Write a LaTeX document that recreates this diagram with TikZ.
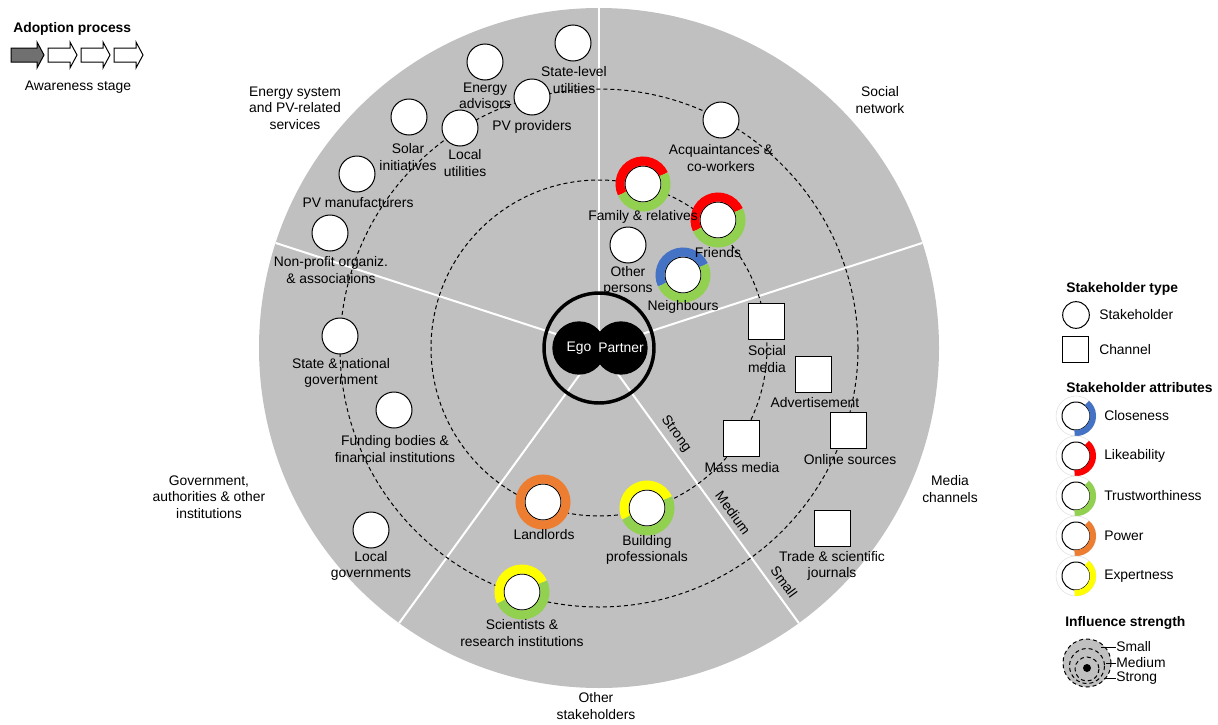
\documentclass[tikz,border=0pt]{standalone}
\usepackage{fontspec}
\setmainfont{Liberation Sans}
\usepackage{xcolor}
\definecolor{disc}{HTML}{C0C0C0}
\definecolor{arrowgray}{HTML}{707070}
\definecolor{cclose}{HTML}{4472C4}
\definecolor{clike}{HTML}{FF0000}
\definecolor{ctrust}{HTML}{92D050}
\definecolor{cpower}{HTML}{ED7D31}
\definecolor{cexpert}{HTML}{FFFF00}

\tikzset{
  stake/.style={circle, draw, fill=white, line width=0.75pt, minimum size=27pt, inner sep=0pt},
  chan/.style={rectangle, draw, fill=white, line width=0.75pt, minimum size=27pt, inner sep=0pt},
  blob/.style={circle, fill=black, text=white, minimum size=40pt, inner sep=0pt},
  lbl/.style={align=center, inner sep=0pt},
  sector/.style={align=center, inner sep=0pt},
  ring/.style={line width=6.75pt},
  sring/.style={line width=4.5pt},
  dashring/.style={dash pattern=on 3pt off 2.25pt, line width=0.75pt},
}

\begin{document}
\begin{tikzpicture}[x=0.75pt,y=-0.75pt,font=\fontsize{10.4}{12.4}\selectfont]
        \useasboundingbox (0,0) rectangle (1218,725);

        % wheel
        \fill[disc] (599,348) circle[radius=340];
        \foreach \a in {-90,-18,54,126,-162}
          \draw[white,line width=1.5pt] (599,348) -- ++(\a:340);
        \draw[dashring] (599,348) circle[radius=168];
        \draw[dashring] (599,348) circle[radius=259];
        \draw[line width=2.6pt] (599,348) circle[radius=55];
        \node(ego)[blob] at (579,348) {Ego};
        \node(partner)[blob] at (621,348) {Partner};

        \node(strong)[lbl,rotate=-54] at (676,434) {Strong};
        \node(medium)[lbl,rotate=-54] at (733,513) {Medium};
        \node(small)[lbl,rotate=-54] at (784,582) {Small};

        \node(energy)[sector] at (295,108) {Energy system\\and PV-related\\services};
        \node(social)[sector] at (880,100) {Social\\network};
        \node(media)[sector] at (950,489) {Media\\channels};
        \node(gov)[sector] at (209,497) {Government,\\authorities \& other\\institutions};
        \node(other)[sector] at (596,706) {Other\\stakeholders};

        % stakeholders
        \node(stu)[stake] at (573,43) {};
        \node(ena)[stake] at (485,62) {};
        \node(pvp)[stake] at (532,97) {};
        \node(sol)[stake] at (409,117) {};
        \node(lut)[stake] at (460,128) {};
        \node(pvm)[stake] at (357,174) {};
        \node(npo)[stake] at (330,233) {};
        \node(sng)[stake] at (340,336) {};
        \node(fin)[stake] at (394,410) {};
        \node(lgv)[stake] at (371,530) {};
        \node(sci)[stake] at (522,592) {};
        \node(lld)[stake] at (543,502) {};
        \node(bld)[stake] at (647,508) {};
        \node(fam)[stake] at (643,184) {};
        \node(fri)[stake] at (718,220) {};
        \node(oth)[stake] at (628,245) {};
        \node(nei)[stake] at (683,275) {};
        \node(acq)[stake] at (721,120) {};

        % channels
        \node(smd)[chan] at (766,321) {};
        \node(adv)[chan] at (813,374) {};
        \node(msm)[chan] at (741,438) {};
        \node(onl)[chan] at (848,430) {};
        \node(trj)[chan] at (832,528) {};

        % attributes
        \draw[ring,clike] (fam) ++(-25:23) arc[start angle=-25,end angle=-205,radius=23];
        \draw[ring,ctrust] (fam) ++(-205:23) arc[start angle=-205,end angle=-385,radius=23];
        \draw[ring,clike] (fri) ++(-25:23) arc[start angle=-25,end angle=-205,radius=23];
        \draw[ring,ctrust] (fri) ++(-205:23) arc[start angle=-205,end angle=-385,radius=23];
        \draw[ring,cclose] (nei) ++(-25:23) arc[start angle=-25,end angle=-205,radius=23];
        \draw[ring,ctrust] (nei) ++(-205:23) arc[start angle=-205,end angle=-385,radius=23];
        \draw[ring,cexpert] (bld) ++(-25:23) arc[start angle=-25,end angle=-205,radius=23];
        \draw[ring,ctrust] (bld) ++(-205:23) arc[start angle=-205,end angle=-385,radius=23];
        \draw[ring,cexpert] (sci) ++(-25:23) arc[start angle=-25,end angle=-205,radius=23];
        \draw[ring,ctrust] (sci) ++(-205:23) arc[start angle=-205,end angle=-385,radius=23];
        \draw[ring,cpower] (lld) circle[radius=23];

        \node(stutxt)[lbl] at (574,80) {State-level\\utilities};
        \node(enatxt)[lbl] at (485,96) {Energy\\advisors};
        \node(pvptxt)[lbl] at (532,127) {PV providers};
        \node(soltxt)[lbl] at (408,157) {Solar\\initiatives};
        \node(luttxt)[lbl] at (465,163) {Local\\utilities};
        \node(pvmtxt)[lbl] at (358,203) {PV manufacturers};
        \node(npotxt)[lbl] at (331,270) {Non-profit organiz.\\\& associations};
        \node(sngtxt)[lbl] at (341,373) {State \& national\\government};
        \node(fintxt)[lbl] at (395,449) {Funding bodies \&\\financial institutions};
        \node(lgvtxt)[lbl] at (371,566) {Local\\governments};
        \node(scitxt)[lbl] at (522,633) {Scientists \&\\research institutions};
        \node(lldtxt)[lbl] at (544,535) {Landlords};
        \node(bldtxt)[lbl] at (647,550) {Building\\professionals};
        \node(famtxt)[lbl] at (643,217) {Family \& relatives};
        \node(fritxt)[lbl] at (718,253) {Friends};
        \node(othtxt)[lbl] at (628,281) {Other\\persons};
        \node(neitxt)[lbl] at (683,307) {Neighbours};
        \node(acqtxt)[lbl] at (721,158) {Acquaintances \&\\co-workers};
        \node(smdtxt)[lbl] at (767,359) {Social\\media};
        \node(advtxt)[lbl] at (815,403) {Advertisement};
        \node(msmtxt)[lbl] at (742,468) {Mass media};
        \node(onltxt)[lbl] at (850,460) {Online sources};
        \node(trjtxt)[lbl] at (832,566) {Trade \& scientific\\journals};

        % adoption process
        \node(adopt)[lbl,anchor=west] at (13,29) {\textbf{Adoption process}};
        \draw[fill=arrowgray,line width=0.75pt] (11,48) -- ++(26,0) -- ++(0,-6) -- ++(7,13) -- ++(-7,13) -- ++(0,-6) -- ++(-26,0) -- cycle;
        \foreach \x in {48,81,114}
          \draw[fill=white,line width=0.75pt] (\x,48) -- ++(22,0) -- ++(0,-6) -- ++(7,13) -- ++(-7,13) -- ++(0,-6) -- ++(-22,0) -- cycle;
        \node(aware)[lbl] at (78,87) {Awareness stage};

        % legend
        \node(typ)[lbl,anchor=west] at (1066,289) {\textbf{Stakeholder type}};
        \node(lstake)[stake,minimum size=20pt] at (1076,315) {};
        \node(lstaketxt)[lbl,anchor=west] at (1099,315) {Stakeholder};
        \node(lchan)[chan,minimum size=19.5pt] at (1075,349) {};
        \node(lchantxt)[lbl,anchor=west] at (1099,350) {Channel};

        \node(attr)[lbl,anchor=west] at (1066,388) {\textbf{Stakeholder attributes}};
        \foreach \y/\c/\t in {416/cclose/Closeness,456/clike/Likeability,496/ctrust/Trustworthiness,536/cpower/Power,576/cexpert/Expertness}{
          \draw[gray!25,line width=0.4pt] (1076,\y) circle[radius=20];
          \node(att\y)[stake,minimum size=21pt] at (1076,\y) {};
          \draw[sring,\c] (att\y) ++(-50:17) arc[start angle=-50,end angle=95,radius=17];
          \node(atttxt\y)[lbl,anchor=west] at (1104,\y) {\t};
        }

        \node(infl)[lbl,anchor=west] at (1065,623) {\textbf{Influence strength}};
        \fill[disc] (1087,663) circle[radius=24];
        \draw[dashring] (1087,663) circle[radius=24];
        \draw[dashring] (1087,666) circle[radius=17.5];
        \draw[dashring] (1087,669) circle[radius=12];
        \fill (1087,668) circle[radius=4];
        \node(lsmall)[lbl,anchor=west] at (1116,647) {Small};
        \node(lmedium)[lbl,anchor=west] at (1116,663) {Medium};
        \node(lstrong)[lbl,anchor=west] at (1116,678) {Strong};
        \coordinate(psmall) at (1101,647);
        \coordinate(pmedium) at (1106,663);
        \coordinate(pstrong) at (1104,678);
        \draw[line width=0.75pt](psmall)--(lsmall.west);
        \draw[line width=0.75pt](pmedium)--(lmedium.west);
        \draw[line width=0.75pt](pstrong)--(lstrong.west);
\end{tikzpicture}
\end{document}
